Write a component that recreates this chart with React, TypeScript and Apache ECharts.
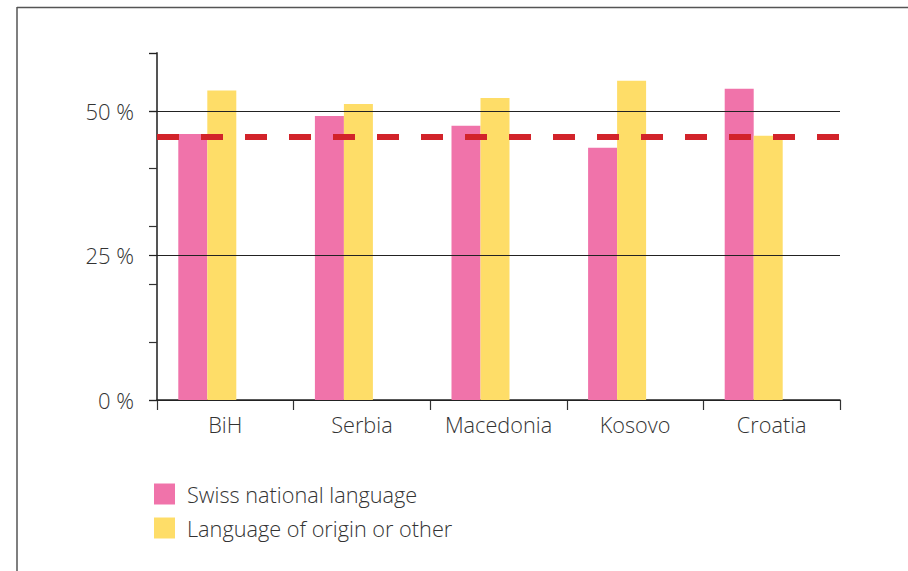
import React, { useEffect, useRef } from "react";
import * as echarts from "echarts";

const categories = ["BiH", "Serbia", "Macedonia", "Kosovo", "Croatia"];
const swissNational = [46.0, 49.1, 47.4, 43.6, 53.8];
const languageOfOrigin = [53.5, 51.2, 52.2, 55.2, 45.7];
const averageValue = 45.5;
const labelledTicks = [0, 25, 50];
const seriesNames = ["Swiss national language", "Language of origin or other"];

const FONT = "'Open Sans', 'Noto Sans', sans-serif";

export default function App() {
  const ref = useRef<HTMLDivElement>(null);
  useEffect(() => {
    if (!ref.current) return;
    const chart = echarts.init(ref.current, null, { renderer: "svg" });
    chart.setOption({
      animation: false,
      backgroundColor: "#ffffff",
      textStyle: { fontFamily: FONT },
      grid: { left: 157, right: 68, top: 53, bottom: 171 },
      legend: {
        data: seriesNames,
        orient: "vertical",
        left: 149,
        top: 478,
        itemWidth: 21,
        itemHeight: 21,
        itemGap: 12,
        icon: "rect",
        selectedMode: false,
        textStyle: {
          fontSize: 21.7,
          fontWeight: 300,
          color: "#333",
          fontFamily: FONT,
          padding: [0, 0, 0, 7],
        },
      },
      xAxis: {
        type: "category",
        data: categories,
        boundaryGap: true,
        axisLine: { show: true, lineStyle: { color: "#222", width: 1.5 } },
        axisTick: { show: true, interval: 0, length: 10, lineStyle: { color: "#333", width: 1.2 } },
        axisLabel: {
          interval: 0,
          fontSize: 21.7,
          fontWeight: 300,
          color: "#333",
          margin: 13,
          fontFamily: FONT,
        },
        splitLine: { show: false },
      },
      yAxis: [
        {
          type: "value",
          min: 0,
          max: 60,
          interval: 10,
          axisLine: { show: true, lineStyle: { color: "#555", width: 2 } },
          axisTick: { show: true, length: 8, lineStyle: { color: "#333", width: 1.2 } },
          axisLabel: { show: false },
          splitLine: { show: false },
        },
        {
          type: "value",
          min: 0,
          max: 60,
          interval: 25,
          position: "left",
          z: 5,
          axisLine: { show: false },
          axisTick: { show: true, length: 8, lineStyle: { color: "#222", width: 1.2 } },
          axisLabel: {
            margin: 23,
            fontSize: 22,
            fontWeight: 300,
            color: "#333",
            fontFamily: FONT,
            formatter: (v: number) => (labelledTicks.includes(v) ? `${v} %` : ""),
          },
          splitLine: {
            show: true,
            showMinLine: true,
            showMaxLine: false,
            lineStyle: { color: "#222", width: 1.2 },
          },
        },
      ],
      series: [
        {
          name: seriesNames[0],
          type: "bar",
          data: swissNational,
          barWidth: 29,
          barGap: 0,
          itemStyle: { color: "#f073aa" },
          markLine: {
            silent: true,
            symbol: "none",
            label: { show: false },
            z: 10,
            lineStyle: { color: "#d2232a", width: 6, type: [22, 22], opacity: 1 },
            data: [{ yAxis: averageValue }],
          },
        },
        {
          name: seriesNames[1],
          type: "bar",
          data: languageOfOrigin,
          barWidth: 29,
          barGap: 0,
          itemStyle: { color: "#fedd68" },
        },
        {
          name: "spacer",
          type: "bar",
          data: categories.map(() => null),
          barWidth: 36,
          barGap: 0,
          itemStyle: { color: "transparent" },
        },
      ],
      graphic: [
        {
          type: "line",
          shape: { x1: 17, y1: 7.5, x2: 908, y2: 7.5 },
          style: { stroke: "#555", lineWidth: 1.5 },
        },
        {
          type: "line",
          shape: { x1: 17, y1: 7, x2: 17, y2: 571 },
          style: { stroke: "#555", lineWidth: 1.5 },
        },
      ],
    });
    return () => chart.dispose();
  }, []);
  return (
    <div
      ref={ref}
      style={{ position: "fixed", left: 0, top: 0, width: 908, height: 571 }}
    />
  );
}
